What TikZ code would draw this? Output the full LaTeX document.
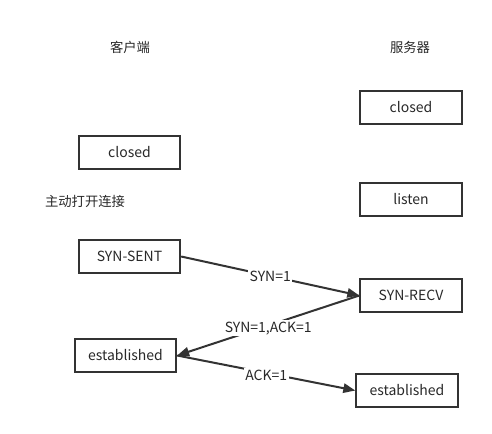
\documentclass[tikz,border=0pt]{standalone}
\usepackage{fontspec}
\setmainfont{Noto Sans CJK SC}
\usetikzlibrary{arrows.meta}
\definecolor{lnclr}{RGB}{51,51,51}
\definecolor{txclr}{RGB}{40,40,40}

\begin{document}
\begin{tikzpicture}[x=.75pt,y=-.75pt,font=\fontsize{10.5}{12}\selectfont,text=txclr,
    state/.style={draw=lnclr,line width=1.5pt,minimum width=76pt,minimum height=24.8pt,inner sep=0pt},
    msg/.style={draw=lnclr,line width=1.5pt,-{Triangle[length=9pt,width=7pt]}},
    lbl/.style={fill=white,inner sep=1pt},
    cjk/.style={font=\fontsize{10}{12}\selectfont}]
    \useasboundingbox (0,0) rectangle (492,433);
    % column titles
    \node[cjk] (cli) at (130,47) {客户端};
    \node[cjk] (srv) at (410,47) {服务器};
    % states
    \node[state] (cclosed) at (129.5,152.5) {closed};
    \node[state] (sclosed) at (411,107.5) {closed};
    \node[cjk] (open) at (85,201) {主动打开连接};
    \node[state] (listen) at (411,199.5) {listen};
    \node[state] (sent) at (129.5,256.5) {SYN-SENT};
    \node[state] (recv) at (411,295.5) {SYN-RECV};
    \node[state] (cest) at (125.5,355.5) {established};
    \node[state] (sest) at (407,390.5) {established};
    % handshake
    \draw[msg] (sent.east) -- node[lbl]{SYN=1} (recv.west);
    \draw[msg] (recv.west) -- node[lbl,yshift=-2pt]{SYN=1,ACK=1} (cest.east);
    \draw[msg] (cest.east) -- node[lbl,yshift=-1.5pt]{ACK=1} (sest.west);
\end{tikzpicture}
\end{document}
